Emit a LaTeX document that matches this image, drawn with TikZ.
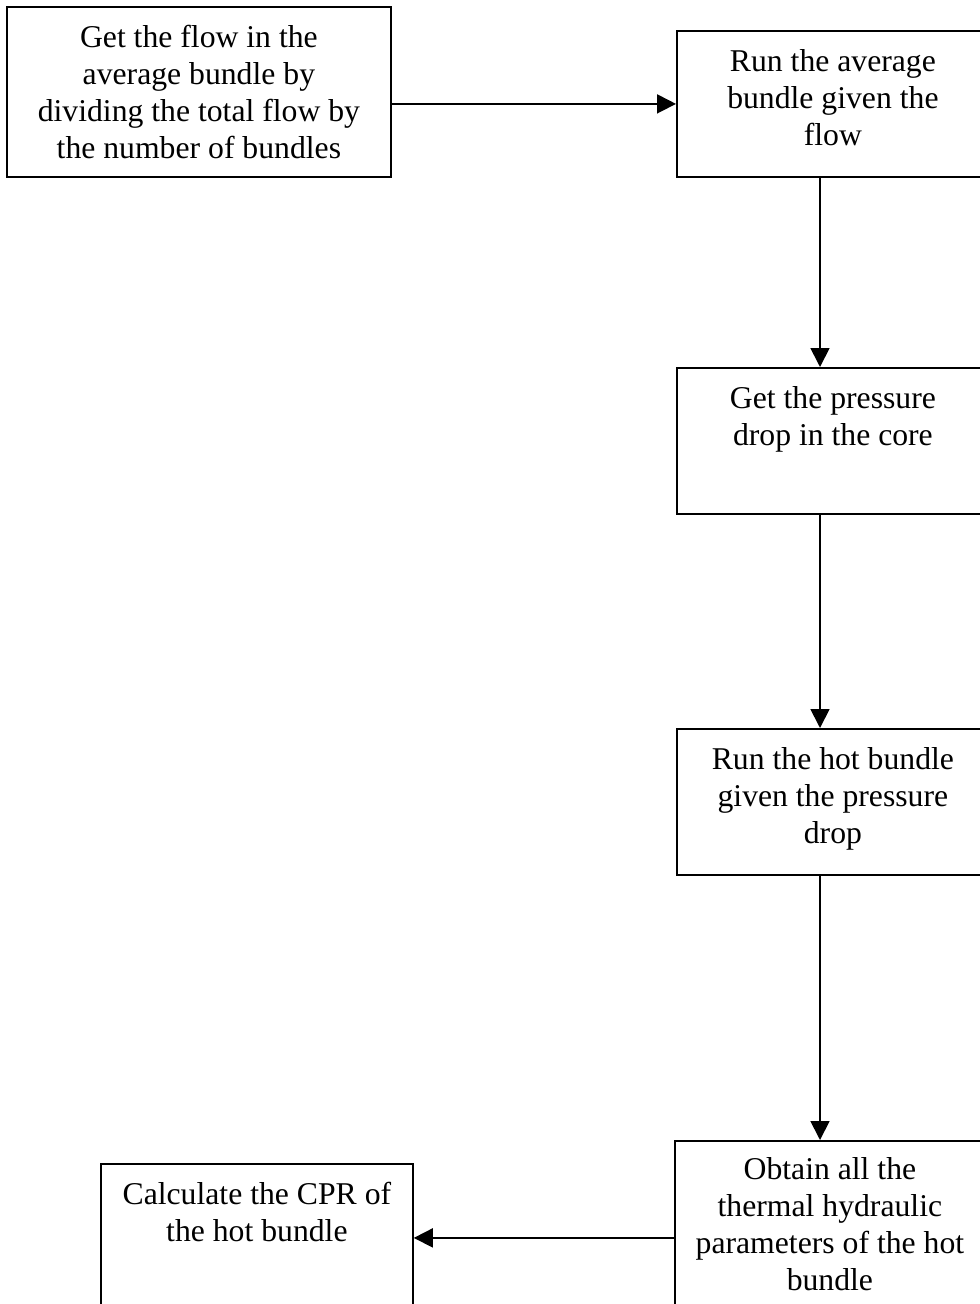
\documentclass[tikz,border=0pt]{standalone}
\usepackage{fontspec}
\setmainfont{Liberation Serif}
\usetikzlibrary{arrows.meta, calc}

\tikzset{
  box/.style={draw, line width=1.8pt, inner sep=0pt, anchor=north west},
  txt/.style={align=center, anchor=north, inner sep=0pt,
    font=\fontsize{31.7}{37}\selectfont},
  flow/.style={line width=1.8pt, -{Triangle[length=19pt,width=19pt]}}
}

\begin{document}
\begin{tikzpicture}[x=1pt, y=-1pt]
            \useasboundingbox (0,0) rectangle (980,1304);
            % boxes
            \node[box, minimum width=384pt, minimum height=170pt] (avgflow) at (6,6) {};
            \node[box, minimum width=312pt, minimum height=146pt] (runavg) at (676,30) {};
            \node[box, minimum width=312pt, minimum height=146pt] (dp) at (676,367) {};
            \node[box, minimum width=312pt, minimum height=146pt] (runhot) at (676,728) {};
            \node[box, minimum width=310pt, minimum height=194pt] (params) at (674,1140) {};
            \node[box, minimum width=312pt, minimum height=148pt] (cpr) at (100,1163) {};
            % texts
            \node[txt] (avgflowtxt) at ($(avgflow.north)+(0,19)$) {Get the flow in the\\ average bundle by\\ dividing the total flow by\\ the number of bundles};
            \node[txt] (runavgtxt) at ($(runavg.north)+(0,19)$) {Run the average\\ bundle given the\\ flow};
            \node[txt] (dptxt) at ($(dp.north)+(0,19)$) {Get the pressure\\ drop in the core};
            \node[txt] (runhottxt) at ($(runhot.north)+(0,19)$) {Run the hot bundle\\ given the pressure\\ drop};
            \node[txt] (paramstxt) at ($(params.north)+(0,17)$) {Obtain all the\\ thermal hydraulic\\ parameters of the hot\\ bundle};
            \node[txt] (cprtxt) at ($(cpr.north)+(0,19)$) {Calculate the CPR of\\ the hot bundle};
            % arrows
            \coordinate (spine) at (820,0);
            \draw[flow] (avgflow.east |- runavg.west) -- (runavg.west);
            \draw[flow] (runavg.south -| spine) -- (dp.north -| spine);
            \draw[flow] (dp.south -| spine) -- (runhot.north -| spine);
            \draw[flow] (runhot.south -| spine) -- (params.north -| spine);
            \draw[flow] (params.west |- cpr.east) -- (cpr.east);
        \end{tikzpicture}
\end{document}
